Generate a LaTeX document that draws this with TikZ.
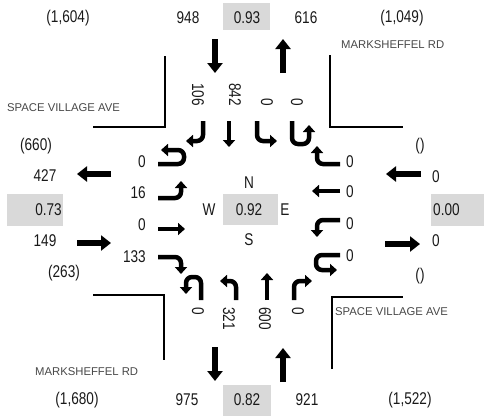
\documentclass[tikz,border=0pt]{standalone}
\usepackage{fontspec}
\setmainfont[FakeStretch=0.8]{Liberation Sans}
\newfontfamily\roadfont{Liberation Sans}
\usetikzlibrary{arrows.meta}

\begin{document}
\begin{tikzpicture}[x=1pt,y=-1pt,
    vol/.style={font=\fontsize{17}{19}\selectfont,text=black!90,inner sep=0pt},
    rot/.style={vol,rotate=-90},
    roadname/.style={font=\roadfont\fontsize{11.3}{13}\selectfont,text=black!72,inner sep=0pt,anchor=west},
    greybox/.style={fill=black!15},
    curb/.style={line width=1.6pt},
    appr/.style={line width=5.5pt,-{Triangle[length=10pt,width=15pt]}},
    turn/.style={line width=4.5pt,rounded corners=6pt,-{Triangle[length=7pt,width=12pt]}}]
    \useasboundingbox (0,0) rectangle (484,416);

    % corners of the roads
    \draw[curb] (165,56) -- (165,127) -- (93,127);
    \draw[curb] (330,55) -- (330,127) -- (403,127);
    \draw[curb] (93,295) -- (164,295) -- (164,360);
    \draw[curb] (332,369) -- (332,297) -- (403,297);

    \node[roadname] (svwest) at (7,108) {SPACE VILLAGE AVE};
    \node[roadname] (mrnorth) at (341,45) {MARKSHEFFEL RD};
    \node[roadname] (sveast) at (335,312) {SPACE VILLAGE AVE};
    \node[roadname] (mrsouth) at (35,372) {MARKSHEFFEL RD};

    % north leg
    \fill[greybox] (223,3) rectangle (270,30);
    \node[vol] (nin) at (68,18) {(1,604)};
    \node[vol] (nout) at (188,18) {948};
    \node[vol] (nphf) at (247,18) {0.93};
    \node[vol] (nexit) at (306,18) {616};
    \node[vol] (nall) at (402,18) {(1,049)};
    \draw[appr] (215,39) -- (215,73);
    \draw[appr] (283,73) -- (283,39);
    \node[rot,anchor=east] (sbr) at (198,106) {106};
    \node[rot,anchor=east] (sbt) at (235,106) {842};
    \node[rot,anchor=east] (sbl) at (267,106) {0};
    \node[rot,anchor=east] (sbu) at (297,106) {0};
    \draw[turn] (203,121) -- (203,141) -- (186,141);
    \draw[turn] (229,121) -- (229,147);
    \draw[turn] (257,121) -- (257,141) -- (277,141);
    \draw[turn] (292,121) -- (292,144) -- (309,144) -- (309,125);

    % west leg
    \fill[greybox] (7,194) rectangle (63,226);
    \node[vol] (win) at (36,146) {(660)};
    \node[vol] (wout) at (45,176) {427};
    \node[vol,anchor=east] (wphf) at (62,210) {0.73};
    \node[vol] (wenter) at (45,241) {149};
    \node[vol] (wall) at (64,273) {(263)};
    \draw[appr] (111,174) -- (77,174);
    \draw[appr] (77,243) -- (111,243);
    \node[vol,anchor=east] (ebu) at (146,162) {0};
    \node[vol,anchor=east] (ebl) at (146,193) {16};
    \node[vol,anchor=east] (ebt) at (146,225) {0};
    \node[vol,anchor=east] (ebr) at (146,257) {133};
    \draw[turn] (158,164) -- (184,164) -- (184,150) -- (161,150);
    \draw[turn] (158,198) -- (181,198) -- (181,181);
    \draw[turn] (158,229) -- (185,229);
    \draw[turn] (158,257) -- (181,257) -- (181,274);

    % east leg
    \fill[greybox] (431,194) rectangle (484,226);
    \node[vol] (ein) at (420,146) {()};
    \node[vol,anchor=west] (eenter) at (432,177) {0};
    \node[vol,anchor=west] (ephf) at (433,210) {0.00};
    \node[vol,anchor=west] (eout) at (432,241) {0};
    \node[vol] (eall) at (420,276) {()};
    \draw[appr] (421,174) -- (386,174);
    \draw[appr] (385,244) -- (420,244);
    \node[vol,anchor=west] (wbr) at (346,162) {0};
    \node[vol,anchor=west] (wbt) at (346,192) {0};
    \node[vol,anchor=west] (wbl) at (346,224) {0};
    \node[vol,anchor=west] (wbu) at (346,256) {0};
    \draw[turn] (340,164) -- (317,164) -- (317,146);
    \draw[turn] (340,191) -- (312,191);
    \draw[turn] (340,220) -- (317,220) -- (317,237);
    \draw[turn] (340,255) -- (316,255) -- (316,270) -- (337,270);

    % south leg
    \fill[greybox] (223,385) rectangle (271,416);
    \node[vol] (sin) at (77,400) {(1,680)};
    \node[vol] (sout) at (187,400) {975};
    \node[vol] (sphf) at (247,400) {0.82};
    \node[vol] (senter) at (307,400) {921};
    \node[vol] (sall) at (410,400) {(1,522)};
    \draw[appr] (215,347) -- (215,381);
    \draw[appr] (283,382) -- (283,348);
    \node[rot,anchor=west] (nbu) at (198,307) {0};
    \node[rot,anchor=west] (nbl) at (229,307) {321};
    \node[rot,anchor=west] (nbt) at (265,307) {600};
    \node[rot,anchor=west] (nbr) at (298,307) {0};
    \draw[turn] (201,300) -- (201,277) -- (186,277) -- (186,294);
    \draw[turn] (236,300) -- (236,281) -- (220,281);
    \draw[turn] (267,300) -- (267,273);
    \draw[turn] (294,300) -- (294,281) -- (312,281);

    % centre
    \fill[greybox] (223,194) rectangle (278,225);
    \node[vol] (north) at (249,183) {N};
    \node[vol] (west) at (209,210) {W};
    \node[vol] (phf) at (249,210) {0.92};
    \node[vol] (east) at (285,210) {E};
    \node[vol] (south) at (249,240) {S};
\end{tikzpicture}
\end{document}
